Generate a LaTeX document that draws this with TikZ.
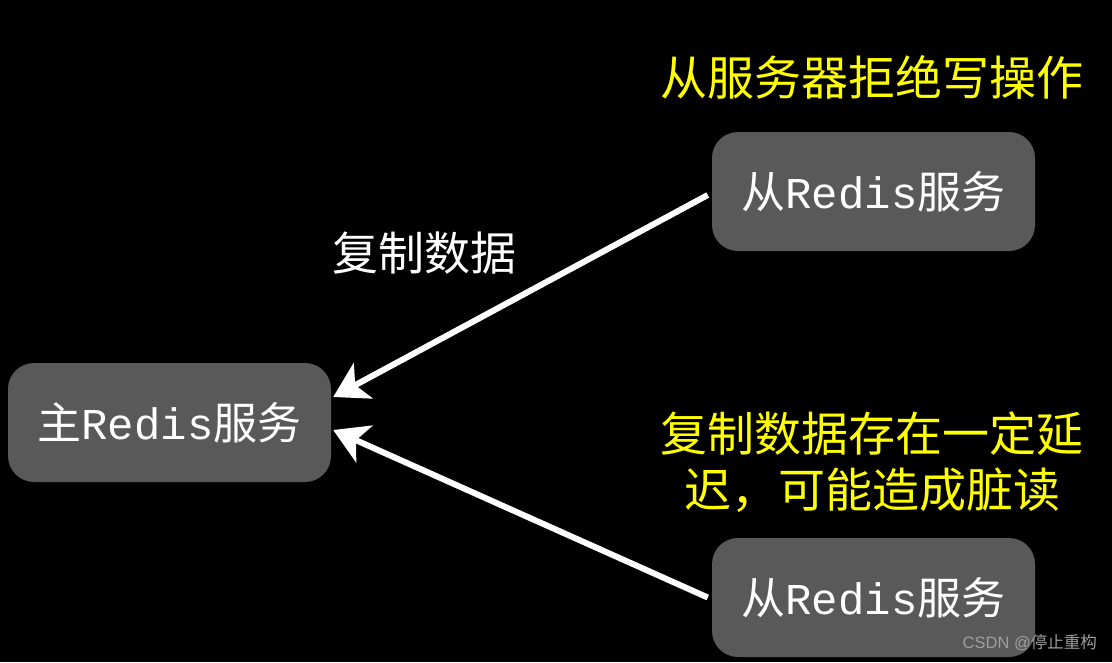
\documentclass[tikz,border=0pt]{standalone}
\usepackage{fontspec}
\setmainfont{Liberation Sans}
\newfontfamily\cjk{Noto Sans CJK SC}
\newfontfamily\monofam{Liberation Mono}
\usetikzlibrary{arrows.meta}
\definecolor{boxgray}{HTML}{595959}
\definecolor{ylw}{HTML}{FFFF00}
\tikzset{
  srvbox/.style={fill=boxgray, rounded corners=26pt, minimum width=323pt, minimum height=119pt, inner sep=0pt, text=white, font=\fontsize{44}{48}\selectfont},
  flow/.style={draw=white, line width=6pt, -{Stealth[length=34pt,width=40pt,inset=9pt]}},
  note/.style={text=ylw, font=\cjk\fontsize{47}{56}\selectfont, align=center, inner sep=0pt},
  lbl/.style={text=white, font=\cjk\fontsize{46}{50}\selectfont, inner sep=0pt},
  wm/.style={text=gray!75, font=\fontsize{16.5}{18}\selectfont, inner sep=0pt}
}
\begin{document}
\begin{tikzpicture}[x=1pt,y=-1pt]
\fill[black] (0,0) rectangle (1112,662);
\useasboundingbox (0,0) rectangle (1112,662);
\node[srvbox] (m) at (169.5,422.5) {{\cjk 主}{\monofam Redis}{\cjk 服务}};
\node[srvbox] (s1) at (873.5,191.5) {{\cjk 从}{\monofam Redis}{\cjk 服务}};
\node[srvbox] (s2) at (873.5,597.5) {{\cjk 从}{\monofam Redis}{\cjk 服务}};
\draw[flow] ([xshift=-4pt,yshift=-3.5pt]s1.west) -- ([xshift=2pt,yshift=25.5pt]m.east);
\draw[flow] ([xshift=-4pt]s2.west) -- ([xshift=2pt,yshift=-7.5pt]m.east);
\node[lbl] (l1) at (424,253) {复制数据};
\node[note] (n1) at (872,77) {从服务器拒绝写操作};
\node[note] (n2) at (872,462) {复制数据存在一定延\\迟，可能造成脏读};
\node[wm, anchor=east] (w) at (1097,643) {CSDN @{\cjk 停止重构}};
\end{tikzpicture}
\end{document}
